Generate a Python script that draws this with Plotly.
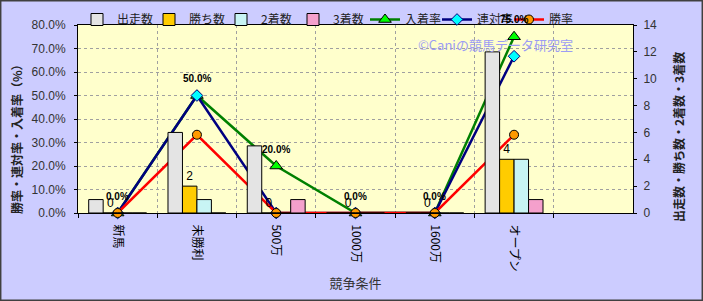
import plotly.graph_objects as go

categories = ["新馬", "未勝利", "500万", "1000万", "1600万", "オープン"]
runs = [1, 6, 5, 0, 0, 12]
wins = [0, 2, 0, 0, 0, 4]
seconds = [0, 1, 0, 0, 0, 4]
thirds = [0, 0, 1, 0, 0, 1]
win_rate = [0.0, 0.333, 0.0, 0.0, 0.0, 0.333]
rentai_rate = [0.0, 0.5, 0.0, 0.0, 0.0, 0.667]
place_rate = [0.0, 0.5, 0.2, 0.0, 0.0, 0.75]

FONT = "Noto Sans CJK JP"
NUMFONT = "Liberation Sans"

fig = go.Figure()

bar_specs = [
    ("出走数", runs, "#E4E4E4"),
    ("勝ち数", wins, "#FFCC00"),
    ("2着数", seconds, "#C8F4F4"),
    ("3着数", thirds, "#F4A0CC"),
]
for name, vals, color in bar_specs:
    kw = {}
    if name == "勝ち数":
        kw = dict(text=[str(v) for v in vals], textposition="outside",
                  textfont=dict(family=NUMFONT, size=12, color="#000000"),
                  constraintext="none", cliponaxis=False)
    fig.add_trace(go.Bar(
        x=categories, y=vals, name=name, yaxis="y2",
        marker=dict(color=color, line=dict(color="#000000", width=1)),
        **kw))

fig.add_trace(go.Scatter(
    x=categories, y=place_rate, name="入着率", yaxis="y",
    mode="lines+markers",
    line=dict(color="#008000", width=2.5),
    marker=dict(symbol="triangle-up", size=11, color="#00FF00",
                line=dict(color="#000000", width=1)),
    cliponaxis=False))
fig.add_trace(go.Scatter(
    x=categories, y=rentai_rate, name="連対率", yaxis="y",
    mode="lines+markers",
    line=dict(color="#000080", width=2.5),
    marker=dict(symbol="diamond", size=9, color="#00FFFF",
                line=dict(color="#000080", width=1)),
    cliponaxis=False))
fig.add_trace(go.Scatter(
    x=categories, y=win_rate, name="勝率", yaxis="y",
    mode="lines+markers",
    line=dict(color="#FF0000", width=2.5),
    marker=dict(symbol="circle", size=9, color="#FF9900",
                line=dict(color="#000000", width=1)),
    cliponaxis=False))

# data labels of 入着率
for c, v in zip(categories, place_rate):
    fig.add_annotation(x=c, y=v, xref="x", yref="y", text=f"<b>{v*100:.1f}%</b>",
                       showarrow=False, yshift=17,
                       font=dict(family=NUMFONT, size=10, color="#000000"))

W, H = 703, 301
ml, mr, mt, mb = 78, 70, 25, 88
pw = W - ml - mr
ph = H - mt - mb


def px(xp):
    return (xp - ml) / pw


def py(yp):
    return (mt + ph - yp) / ph


fig.add_annotation(
    text="©Caniの競馬データ研究室", xref="paper", yref="paper",
    x=px(495), y=py(44), xanchor="center", yanchor="middle",
    showarrow=False, font=dict(family=FONT, size=13, color="#9C9CF4"))

# axis titles
fig.add_annotation(
    text="<b>勝率・連対率・入着率（%）</b>", xref="paper", yref="paper",
    x=px(16), y=py(136), xanchor="center", yanchor="middle", textangle=-90,
    showarrow=False, font=dict(family=FONT, size=12, color="#222222"))
fig.add_annotation(
    text="<b>出走数・勝ち数・2着数・3着数</b>", xref="paper", yref="paper",
    x=px(678), y=py(137), xanchor="center", yanchor="middle", textangle=-90,
    showarrow=False, font=dict(family=FONT, size=12, color="#222222"))

# outer frame
fig.add_shape(type="rect", xref="paper", yref="paper",
              x0=px(0.7), x1=px(702.3), y0=py(300.3), y1=py(0.7),
              line=dict(color="#404040", width=1.5), layer="below")

fig.update_layout(
    width=W, height=H,
    margin=dict(l=ml, r=mr, t=mt, b=mb, autoexpand=False),
    paper_bgcolor="#CCCCFF", plot_bgcolor="#FFFFCC",
    barmode="group", bargap=0.27, bargroupgap=0,
    font=dict(family=FONT, size=12, color="#222222"),
    showlegend=True,
    legend=dict(orientation="h", x=px(77), xanchor="left",
                y=py(5), yanchor="top",
                bgcolor="rgba(0,0,0,0)", font=dict(family=FONT, size=12, color="#222222"),
                entrywidth=27, entrywidthmode="pixels", itemwidth=30,
                tracegroupgap=0),
    xaxis=dict(type="category", categoryorder="array", categoryarray=categories,
               range=[-0.5, 6.5], tickangle=90, tickson="boundaries",
               ticklabelstandoff=8, automargin=False,
               showgrid=True, gridcolor="#A0A0A0", griddash="dot", gridwidth=1,
               showline=True, linecolor="#000000", linewidth=1, mirror=True,
               ticks="outside", ticklen=4, tickcolor="#000000",
               tickfont=dict(family=FONT, size=12, color="#000000"),
               title=dict(text="競争条件", font=dict(family=FONT, size=13, color="#333333"),
                          standoff=8)),
    yaxis=dict(range=[0, 0.8], dtick=0.1, tickformat=".1%", automargin=False,
               showgrid=True, gridcolor="#A0A0A0", griddash="dot", gridwidth=1,
               zeroline=False, showline=True, linecolor="#000000", linewidth=1,
               ticks="outside", ticklen=3, tickcolor="#000000", ticklabelstandoff=6,
               tickfont=dict(family=NUMFONT, size=12, color="#333333")),
    yaxis2=dict(range=[0, 14], dtick=2, overlaying="y", side="right", automargin=False,
                showgrid=False, zeroline=False, showline=True, linecolor="#000000",
                ticks="outside", ticklen=3, tickcolor="#000000", ticklabelstandoff=4,
                tickfont=dict(family=NUMFONT, size=12, color="#333333")),
)

fig.write_html("out.html")
